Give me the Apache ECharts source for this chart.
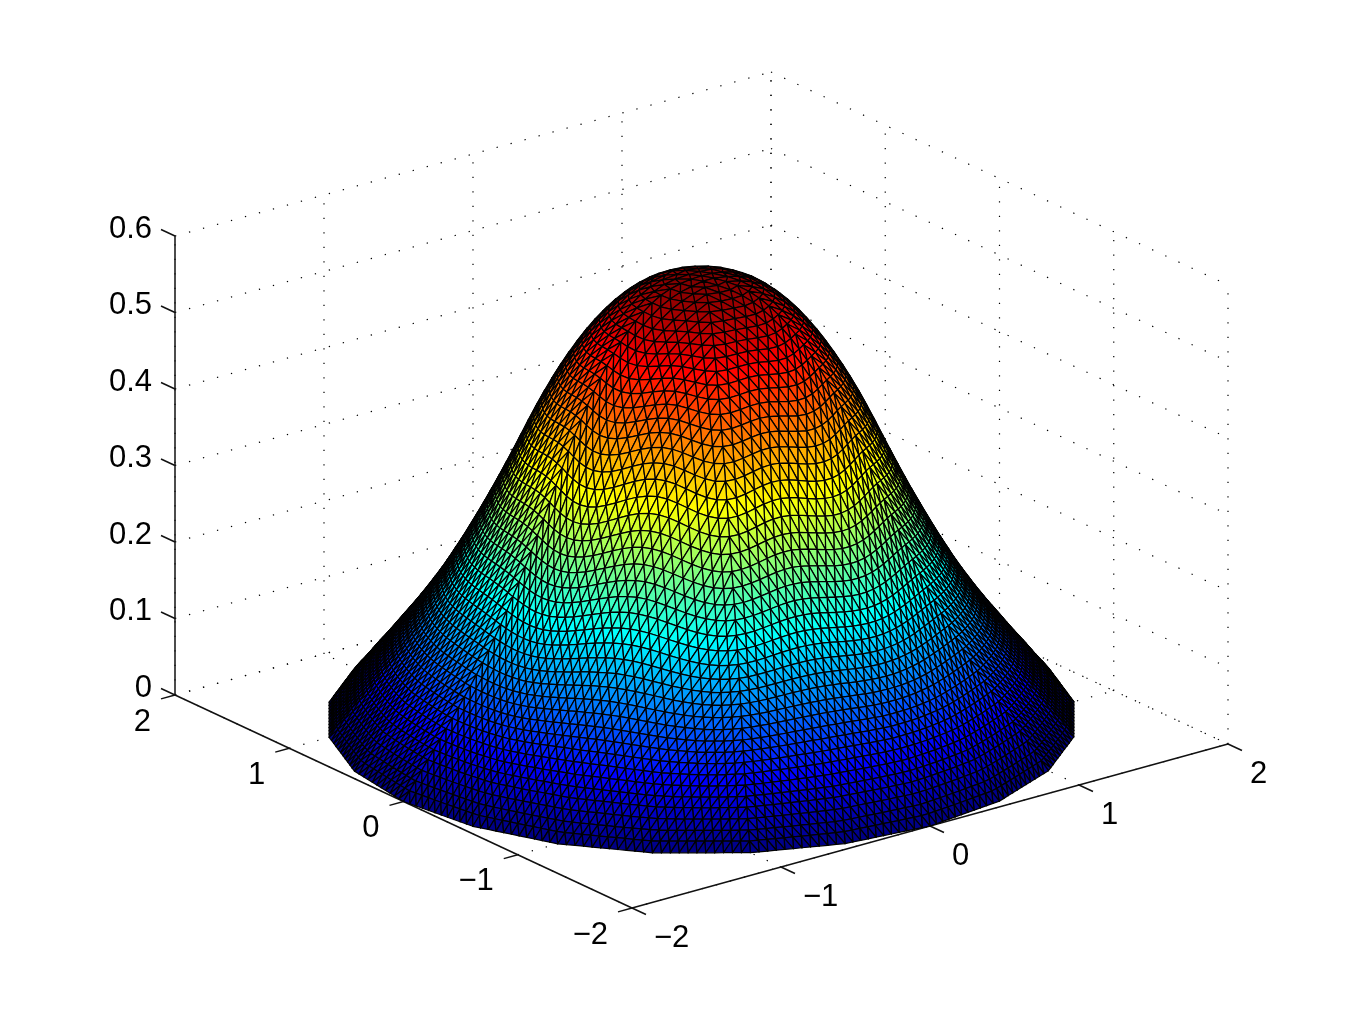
<!DOCTYPE html>
<html>
<head>
<meta charset="utf-8">
<style>html,body{margin:0;padding:0;background:#fff}#c{width:1354px;height:1016px}</style>
<script src="https://cdn.jsdelivr.net/npm/echarts@6/dist/echarts.min.js"></script>
</head>
<body>
<div id="c"></div>
<script>
// Tick values and labels
const xTicks = [-2, -1, 0, 1, 2];
const yTicks = [-2, -1, 0, 1, 2];
const zTicks = [0, 0.1, 0.2, 0.3, 0.4, 0.5, 0.6];
const xLabels = ['\u22122', '\u22121', '0', '1', '2'];
const yLabels = ['\u22122', '\u22121', '0', '1', '2'];
const zLabels = ['0', '0.1', '0.2', '0.3', '0.4', '0.5', '0.6'];
// Height of the surface against radius, centre (r = 0) to rim (r = 2)
const radialHeights = [
  0.580, 0.580, 0.579, 0.578, 0.576, 0.574, 0.571, 0.567, 0.562, 0.556,
  0.549, 0.541, 0.532, 0.522, 0.511, 0.499, 0.486, 0.472, 0.457, 0.441,
  0.424, 0.406, 0.387, 0.367, 0.347, 0.327, 0.308, 0.289, 0.271, 0.253,
  0.236, 0.219, 0.203, 0.187, 0.172, 0.158, 0.144, 0.131, 0.118, 0.106,
  0.094, 0.082, 0.070, 0.058, 0.047, 0.035, 0.023, 0.012, 0.000
];
const rimRadius = 2;
function heightAt(r) {
  const u = Math.max(0, Math.min(1, r / rimRadius)) * (radialHeights.length - 1);
  const i = Math.min(Math.floor(u), radialHeights.length - 2);
  return radialHeights[i] + (radialHeights[i + 1] - radialHeights[i]) * (u - i);
}

// View of the axes box (orthographic, MATLAB default azimuth)
const view = { ox: 632, oy: 908, xx: 149, xy: -41, yx: -114.25, yy: -53.25, zy: -765 };
function project(x, y, z) {
  return [
    view.ox + (x + 2) * view.xx + (y + 2) * view.yx,
    view.oy + (x + 2) * view.xy + (y + 2) * view.yy + z * view.zy
  ];
}
function depth(x, y, z) { return 175 * (0.609 * x + 0.793 * y) - 294 * z; }

function jet(t) {
  t = Math.max(0, Math.min(1, t));
  const ch = c => Math.round(255 * Math.max(0, Math.min(1, 1.5 - Math.abs(4 * t - c))));
  return 'rgb(' + ch(3) + ',' + ch(2) + ',' + ch(1) + ')';
}

// Triangle mesh over the disk: rings of triangles, coarser at the top, wandering a little
// on the side facing the viewer, the rim being a 24-gon
const rings = 44;
const frontAngle = -127.5 * Math.PI / 180;
function vertex(k, j) {
  const t = k / rings;
  const base = rimRadius * (0.9 * t + 0.1 * Math.tanh(t / 0.15));
  if (k === 0) return [0, 0, heightAt(0)];
  const n = 6 * k, th0 = 2 * Math.PI * ((j % n + n) % n) / n;
  const front = Math.pow(Math.max(0, Math.cos(th0 - frontAngle)), 1.5);
  const fade = Math.pow(Math.sin(Math.PI * t), 2) * front;
  const r = base + fade * (0.026 * Math.cos(8 * th0 + 3.84 + 0.7 * base) + 0.01 * Math.cos(5 * th0 + 2.2 * base));
  const th = th0 + 0.016 * fade * Math.cos(5 * th0 - 1.5 * base);
  const step = Math.PI / 12;
  const m = ((th0 % step) + step) % step;
  const poly = Math.cos(step / 2) / Math.cos(m - step / 2);
  const rr = r * (1 + (poly - 1) * Math.pow(t, 6));
  return [rr * Math.cos(th), rr * Math.sin(th), heightAt(r)];
}
const tris = [];
for (let k = 0; k < rings; k++) {
  for (let s = 0; s < 6; s++) {
    for (let i = 0; i <= k; i++) {
      const j = s * k + i, jo = s * (k + 1) + i;
      tris.push([vertex(k, j), vertex(k + 1, jo), vertex(k + 1, jo + 1)]);
      if (i < k) tris.push([vertex(k, j), vertex(k + 1, jo + 1), vertex(k, j + 1)]);
    }
  }
}
const zMax = Math.max.apply(null, radialHeights), zMin = Math.min.apply(null, radialHeights);
const visible = tris.filter(t => {
  const a = project(t[0][0], t[0][1], t[0][2]), b = project(t[1][0], t[1][1], t[1][2]), c = project(t[2][0], t[2][1], t[2][2]);
  return (b[0] - a[0]) * (c[1] - a[1]) - (b[1] - a[1]) * (c[0] - a[0]) < 0;
}).map(t => {
  const cx = (t[0][0] + t[1][0] + t[2][0]) / 3, cy = (t[0][1] + t[1][1] + t[2][1]) / 3, cz = (t[0][2] + t[1][2] + t[2][2]) / 3;
  return { t: t, d: depth(cx, cy, cz), c: jet((cz - zMin) / (zMax - zMin)) };
}).sort((p, q) => q.d - p.d);

// Segments of the axes box
const dotted = [], solid = [], texts = [];
const zTop = zTicks[zTicks.length - 1];
xTicks.forEach(x => {
  dotted.push([[x, -2, 0], [x, 2, 0]]);
  dotted.push([[x, 2, 0], [x, 2, zTop]]);
});
yTicks.forEach(y => {
  dotted.push([[-2, y, 0], [2, y, 0]]);
  dotted.push([[2, y, 0], [2, y, zTop]]);
});
zTicks.forEach(z => {
  dotted.push([[-2, 2, z], [2, 2, z]]);
  dotted.push([[2, 2, z], [2, -2, z]]);
});
solid.push([[-2, -2, 0], [2, -2, 0]]);
solid.push([[-2, -2, 0], [-2, 2, 0]]);
solid.push([[-2, 2, 0], [-2, 2, zTop]]);
xTicks.forEach((x, i) => {
  solid.push([[x, -2, 0], [x, -2.1225, 0]]);
  texts.push({ p: [x, -2, 0], s: xLabels[i], dx: 22, dy: 30, align: 'left' });
});
yTicks.forEach((y, i) => {
  solid.push([[-2, y, 0], [-2.094, y, 0]]);
  texts.push({ p: [-2, y, 0], s: yLabels[i], dx: -24, dy: 27, align: 'right' });
});
zTicks.forEach((z, i) => {
  solid.push([[-2, 2, z], [-2, 2.1225, z]]);
  texts.push({ p: [-2, 2, z], s: zLabels[i], dx: -23, dy: -7, align: 'right' });
});

function seg(api, s, style) {
  const a = api.coord(project(s[0][0], s[0][1], s[0][2]));
  const b = api.coord(project(s[1][0], s[1][1], s[1][2]));
  return { type: 'line', shape: { x1: a[0], y1: a[1], x2: b[0], y2: b[1] }, style: style, silent: true };
}
const dotStyle = { stroke: '#000', lineWidth: 1.2, lineDash: [1.3, 13.2], fill: null };
const lineStyle = { stroke: '#111', lineWidth: 1.5, fill: null };
const idx = a => a.map((_, i) => [i]);

const chart = echarts.init(document.getElementById('c'), null, { renderer: 'canvas', width: 1354, height: 1016 });
chart.setOption({
  animation: false,
  backgroundColor: '#ffffff',
  grid: { left: 0, right: 0, top: 0, bottom: 0, containLabel: false },
  xAxis: { type: 'value', min: 0, max: 1354, show: false },
  yAxis: { type: 'value', min: 0, max: 1016, inverse: true, show: false },
  series: [
    { type: 'custom', coordinateSystem: 'cartesian2d', silent: true, z: 1, progressive: 0, clip: false,
      data: idx(dotted), encode: { x: 0, y: 0 },
      renderItem: (p, api) => seg(api, dotted[api.value(0)], dotStyle) },
    { type: 'custom', coordinateSystem: 'cartesian2d', silent: true, z: 2, progressive: 0, clip: false,
      data: idx(solid), encode: { x: 0, y: 0 },
      renderItem: (p, api) => seg(api, solid[api.value(0)], lineStyle) },
    { type: 'custom', coordinateSystem: 'cartesian2d', silent: true, z: 3, progressive: 0, clip: false,
      data: idx(visible), encode: { x: 0, y: 0 },
      renderItem: (p, api) => {
        const v = visible[api.value(0)];
        const pts = v.t.map(q => api.coord(project(q[0], q[1], q[2])));
        return { type: 'polygon', shape: { points: pts }, silent: true,
          style: { fill: v.c, stroke: '#000', lineWidth: 1.25, lineJoin: 'round' } };
      } },
    { type: 'custom', coordinateSystem: 'cartesian2d', silent: true, z: 4, progressive: 0, clip: false,
      data: idx(texts), encode: { x: 0, y: 0 },
      renderItem: (p, api) => {
        const t = texts[api.value(0)];
        const c = api.coord(project(t.p[0], t.p[1], t.p[2]));
        return { type: 'text', silent: true,
          style: { text: t.s, x: c[0] + t.dx, y: c[1] + t.dy, align: t.align, verticalAlign: 'middle',
            font: '31px "Liberation Sans", Arial, sans-serif', fill: '#000' } };
      } }
  ]
});
</script>
</body>
</html>
